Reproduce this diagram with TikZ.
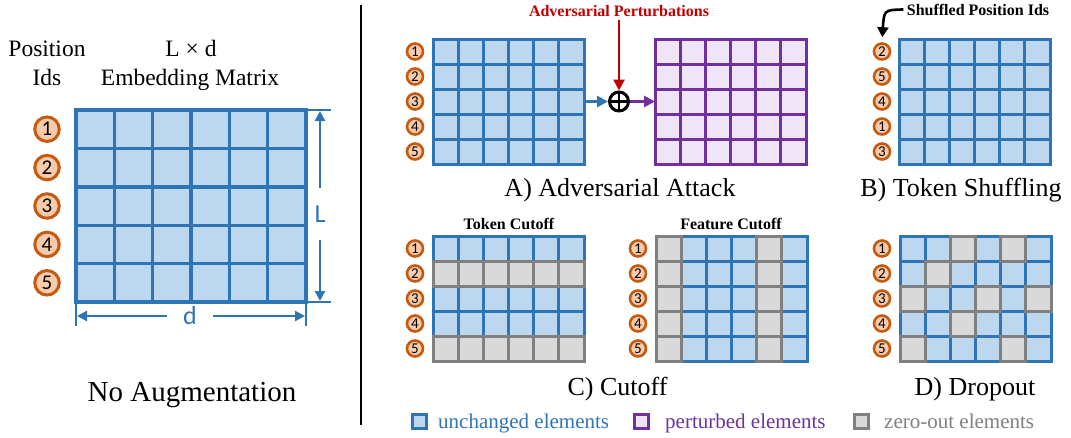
\documentclass[tikz,border=0pt]{standalone}
\usepackage{fontspec}
\setmainfont{Liberation Serif}
\newfontfamily\calfont{Carlito}
\usetikzlibrary{arrows.meta,calc}
\definecolor{bstroke}{HTML}{2E75B6}
\definecolor{bfill}{HTML}{BDD7EE}
\definecolor{pstroke}{HTML}{7030A0}
\definecolor{pfill}{HTML}{EFE4F8}
\definecolor{gstroke}{HTML}{808080}
\definecolor{gfill}{HTML}{D9D9D9}
\definecolor{ostroke}{HTML}{C55A11}
\definecolor{ofill}{HTML}{F8CBAD}
\definecolor{advred}{HTML}{C00000}
\tikzset{
 x=1pt,y=-1pt,
 bcell/.style={draw=bstroke,fill=bfill,line width=3pt},
 pcell/.style={draw=pstroke,fill=pfill,line width=3pt},
 gcell/.style={draw=gstroke,fill=gfill,line width=3pt},
 bigcell/.style={draw=bstroke,fill=bfill,line width=3.4pt},
 mat/.style={inner sep=0pt,outer sep=0pt,anchor=north west,draw=none,minimum width=151pt,minimum height=125pt},
 pid/.style={circle,draw=ostroke,fill=ofill,line width=2.6pt,minimum size=16pt,inner sep=0pt,font=\calfont\fontsize{15}{15}\selectfont},
 bigpid/.style={circle,draw=ostroke,fill=ofill,line width=3pt,minimum size=24.5pt,inner sep=0pt,font=\calfont\fontsize{21}{21}\selectfont},
 caption/.style={font=\fontsize{26}{30}\selectfont,anchor=base,inner sep=0pt},
 toptext/.style={font=\fontsize{23.5}{28}\selectfont,anchor=base,inner sep=0pt},
 sublbl/.style={font=\bfseries\fontsize{16}{18}\selectfont,anchor=base},
 legtext/.style={font=\fontsize{21}{24}\selectfont,anchor=base west,inner sep=0pt},
 legsq/.style={draw=#1,line width=2.8pt,minimum size=14.5pt,inner sep=0pt},
 dimlbl/.style={font=\calfont\fontsize{26}{26}\selectfont,text=bstroke,inner sep=0pt},
 dimarrow/.style={draw=bstroke,line width=2.4pt,-{Triangle[length=10pt,width=10pt]}},
 extline/.style={draw=bstroke,line width=2.4pt},
 flowarrow/.style={line width=2.8pt,-{Triangle[length=11pt,width=11pt]}},
}
\newcommand\drawgrid[4]{%
 \begin{scope}[shift={(#1.north west)}]
 \foreach \c in {0,...,5}{\foreach \r in {0,...,4}{\draw[#4] (\c*#2,\r*#3) rectangle ++(#2,#3);}}
 \end{scope}}
\newcommand\gcellat[3]{\draw[gcell] ($(#1.north west)+(#2*25.17,#3*25)$) rectangle ++(25.17,25);}
\begin{document}
\begin{tikzpicture}
\useasboundingbox (0,0) rectangle (1071,437);
% ---------- left panel ----------
\node[toptext] (tpos) at (47,56) {Position};
\node[toptext] (tids) at (47,85) {Ids};
\node[toptext] (tld) at (191,56) {L × d};
\node[toptext] (temb) at (190,85) {Embedding Matrix};
\node[mat,minimum width=230pt,minimum height=192pt] (mL) at (76,110) {};
\drawgrid{mL}{38.333}{38.4}{bigcell}
\foreach \n [count=\i from 0] in {1,...,5}
  \node[bigpid] (pl\n) at (47,{129.2+38.4*\i}) {\n};
\draw[extline] (mL.north east) -- ++(25,0) coordinate (extTop);
\draw[extline] (mL.south east) -- ++(25,0) coordinate (extBot);
\draw[extline] (mL.south west) -- ++(0,24) coordinate (extL);
\draw[extline] (mL.south east) -- ++(0,24) coordinate (extR);
\node[dimlbl,minimum height=52pt] (Llbl) at (320,214) {L};
\coordinate (Ltop) at (320,111);
\coordinate (Lbot) at (320,301);
\draw[dimarrow] (Llbl) -- (Ltop);
\draw[dimarrow] (Llbl) -- (Lbot);
\node[dimlbl,minimum width=46pt] (dlbl) at (190,316) {d};
\coordinate (dleft) at (77,316);
\coordinate (dright) at (305,316);
\draw[dimarrow] (dlbl) -- (dleft);
\draw[dimarrow] (dlbl) -- (dright);
\node[font=\fontsize{29}{34}\selectfont,anchor=base,inner sep=0pt] (tnoaug) at (192,401) {No Augmentation};
% divider
\coordinate (divtop) at (361,5);
\coordinate (divbot) at (361,425);
\draw[line width=2.2pt] (divtop) -- (divbot);
% ---------- A) adversarial ----------
\node[mat] (mA) at (433,39) {};
\drawgrid{mA}{25.17}{25}{bcell}
\node[mat] (mP) at (655,39) {};
\drawgrid{mP}{25.17}{25}{pcell}
\foreach \n [count=\i from 0] in {1,...,5}
  \node[pid] (pa\n) at (415,{51.5+25*\i}) {\n};
\node[circle,draw=black,line width=3pt,minimum size=19pt,inner sep=0pt] (op) at (619,101.5) {};
\draw[line width=2.8pt] ($(op.center)+(0,-9.5)$) -- ($(op.center)+(0,9.5)$);
\draw[line width=2.8pt] ($(op.center)+(-9.5,0)$) -- ($(op.center)+(9.5,0)$);
\node[sublbl,text=advred] (advtxt) at (619,16) {Adversarial Perturbations};
\draw[flowarrow,draw=advred,fill=advred] (advtxt.south) -- (op.north);
\draw[flowarrow,draw=bstroke,fill=bstroke] (mA.east) -- (op.west);
\draw[flowarrow,draw=pstroke,fill=pstroke] (op.east) -- (mP.west);
\node[caption] (capA) at (620,196) {A) Adversarial Attack};
% ---------- B) shuffling ----------
\node[mat] (mB) at (899,39) {};
\drawgrid{mB}{25.17}{25}{bcell}
\foreach \n [count=\i from 0] in {2,5,4,1,3}
  \node[pid] (pb\i) at (882,{51.5+25*\i}) {\n};
\node[sublbl] (stxt) at (978,15) {Shuffled Position Ids};
\draw[line width=2.6pt,-{Triangle[length=10pt,width=11pt]},shorten >=5pt] (stxt.west) .. controls (884,10) .. (pb0.north);
\node[caption] (capB) at (961,196) {B) Token Shuffling};
% ---------- C) cutoff ----------
\node[mat] (mC) at (433,236) {};
\drawgrid{mC}{25.17}{25}{bcell}
\foreach \r in {1,4}{\foreach \c in {0,...,5}{\gcellat{mC}{\c}{\r}}}
\foreach \n [count=\i from 0] in {1,...,5}
  \node[pid] (pc\n) at (415,{248.5+25*\i}) {\n};
\node[sublbl] (ttok) at (509,229) {Token Cutoff};
\node[mat] (mF) at (656,236) {};
\drawgrid{mF}{25.17}{25}{bcell}
\foreach \c in {0,4}{\foreach \r in {0,...,4}{\gcellat{mF}{\c}{\r}}}
\foreach \n [count=\i from 0] in {1,...,5}
  \node[pid] (pf\n) at (638,{248.5+25*\i}) {\n};
\node[sublbl] (tfeat) at (731,229) {Feature Cutoff};
\node[caption] (capC) at (617.5,395) {C) Cutoff};
% ---------- D) dropout ----------
\node[mat] (mD) at (900,236) {};
\drawgrid{mD}{25.17}{25}{bcell}
\foreach \c/\r in {2/0,4/0,1/1,0/2,3/2,5/2,2/3,0/4,4/4}{\gcellat{mD}{\c}{\r}}
\foreach \n [count=\i from 0] in {1,...,5}
  \node[pid] (pd\n) at (882,{248.5+25*\i}) {\n};
\node[caption] (capD) at (975,395) {D) Dropout};
% ---------- legend ----------
\node[legsq=bstroke,fill=bfill] (lgb) at (419.5,421.5) {};
\node[legtext,text=bstroke] (lgbt) at (438,428) {unchanged elements};
\node[legsq=pstroke,fill=pfill] (lgp) at (641.5,421.5) {};
\node[legtext,text=pstroke] (lgpt) at (665,428) {perturbed elements};
\node[legsq=gstroke,fill=gfill] (lgg) at (861.5,421.5) {};
\node[legtext,text=gstroke] (lggt) at (884,428) {zero-out elements};
\end{tikzpicture}
\end{document}
